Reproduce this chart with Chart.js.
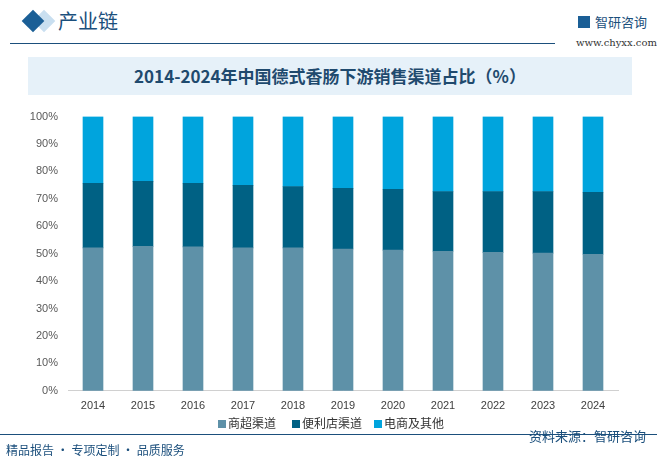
<!DOCTYPE html>
<html>
<head>
<meta charset="utf-8">
<script src="https://cdn.jsdelivr.net/npm/chart.js@4"></script>
<style>
  body { margin: 0; width: 657px; height: 464px; background: #fff; position: relative; overflow: hidden;
         font-family: "Noto Sans CJK SC", "Noto Sans", sans-serif; }
  .diamond { position: absolute; left: 25px; top: 13px; width: 16px; height: 16px; background: #1b5f96; transform: rotate(45deg); }
  .diamond2 { position: absolute; left: 36px; top: 13px; width: 16px; height: 16px; background: #c9dff0; transform: rotate(45deg); z-index: -1; }
  .head { position: absolute; left: 58px; top: 6px; font-size: 20px; color: #1b4f7c; }
  .rule { position: absolute; left: 10px; top: 43px; width: 545px; height: 1px; background: #1b4f7c; }
  .logo { position: absolute; left: 578px; top: 12px; font-size: 13px; color: #1b4f7c; }
  .logo b { display: inline-block; width: 12px; height: 12px; background: #1b5f96; margin-right: 5px; vertical-align: -1px; }
  .url { position: absolute; left: 576px; top: 37px; font-size: 10px; color: #333; font-family: "DejaVu Serif", serif; }
  .band { position: absolute; left: 28px; top: 57px; width: 604px; height: 38px; background: #e6f1f9; }
  .title { position: absolute; left: 28px; top: 57px; width: 604px; line-height: 38px; text-align: center;
           font-size: 17px; font-weight: bold; color: #1f4a6e; }
  #wrap { position: absolute; left: 0; top: 100px; width: 657px; height: 322px; }
  .legend { position: absolute; top: 415px; font-size: 12px; color: #333; line-height: 16px; }
  .legend i { display: inline-block; width: 8px; height: 8px; margin-right: 2px; vertical-align: 0px; }
  .frule { position: absolute; left: 0; top: 434px; width: 657px; height: 1px; background: #1b4f7c; }
  .foot { position: absolute; left: 6px; top: 441px; font-size: 12px; color: #1b4f7c; }
  .src { position: absolute; left: 529px; top: 426px; font-size: 13px; color: #1b4f7c; }
</style>
</head>
<body>
<div class="diamond2"></div>
<div class="diamond"></div>
<div class="head">产业链</div>
<div class="rule"></div>
<div class="logo"><b></b>智研咨询</div>
<div class="url">www.chyxx.com</div>
<div class="band"></div>
<div class="title">2014-2024年中国德式香肠下游销售渠道占比（%）</div>
<div id="wrap"><canvas id="chart"></canvas></div>
<div id="legend"></div>
<div class="frule"></div>
<div class="src">资料来源：智研咨询</div>
<div class="foot">精品报告 · 专项定制 · 品质服务</div>

<script>
// data (%)
const years = ['2014', '2015', '2016', '2017', '2018', '2019', '2020', '2021', '2022', '2023', '2024'];
const supermarket = [52.1, 52.7, 52.5, 52.1, 52.1, 51.7, 51.3, 50.9, 50.5, 50.2, 49.8];
const convenience = [23.6, 23.7, 23.2, 22.8, 22.4, 22.1, 22.2, 21.8, 22.2, 22.5, 22.6];
const ecommerce = [24.3, 23.6, 24.3, 25.1, 25.5, 26.2, 26.5, 27.3, 27.3, 27.3, 27.6];
const yTicks = [0, 10, 20, 30, 40, 50, 60, 70, 80, 90, 100];

const ctx = document.getElementById('chart').getContext('2d');
const chart = new Chart(ctx, {
    type: 'bar',
    data: {
        labels: years,
        datasets: [
            { label: '商超渠道', data: supermarket, backgroundColor: '#5e91a8' },
            { label: '便利店渠道', data: convenience, backgroundColor: '#006184' },
            { label: '电商及其他', data: ecommerce, backgroundColor: '#00a4dd' }
        ]
    },
    options: {
        responsive: true,
        maintainAspectRatio: false,
        animation: false,
        layout: { padding: { top: 15, right: 39, left: 0, bottom: 0 } },
        datasets: { bar: { barThickness: 20 } },
        scales: {
            x: {
                stacked: true,
                grid: { display: false, drawTicks: false },
                border: { color: '#d0d0d0' },
                ticks: { color: '#404040', font: { size: 11, family: 'Liberation Sans' }, padding: 9 }
            },
            y: {
                stacked: true,
                min: 0, max: 100,
                afterBuildTicks: (axis) => { axis.ticks = yTicks.map(v => ({ value: v })); },
                afterFit: (axis) => { axis.width = 68; },
                grid: { display: false, drawTicks: false },
                border: { display: false },
                ticks: { color: '#595959', font: { size: 11, family: 'Liberation Sans' }, padding: 10,
                         callback: v => v + '%' }
            }
        },
        plugins: {
            legend: { display: false },
            tooltip: { enabled: false }
        }
    }
});

// legend built from the chart's datasets
const legendLeft = [218, 292, 374];
const legendEl = document.getElementById('legend');
chart.data.datasets.forEach((ds, i) => {
    const item = document.createElement('div');
    item.className = 'legend';
    item.style.left = legendLeft[i] + 'px';
    item.innerHTML = `<i style="background:${ds.backgroundColor}"></i>${ds.label}`;
    legendEl.appendChild(item);
});
</script>
</body>
</html>
